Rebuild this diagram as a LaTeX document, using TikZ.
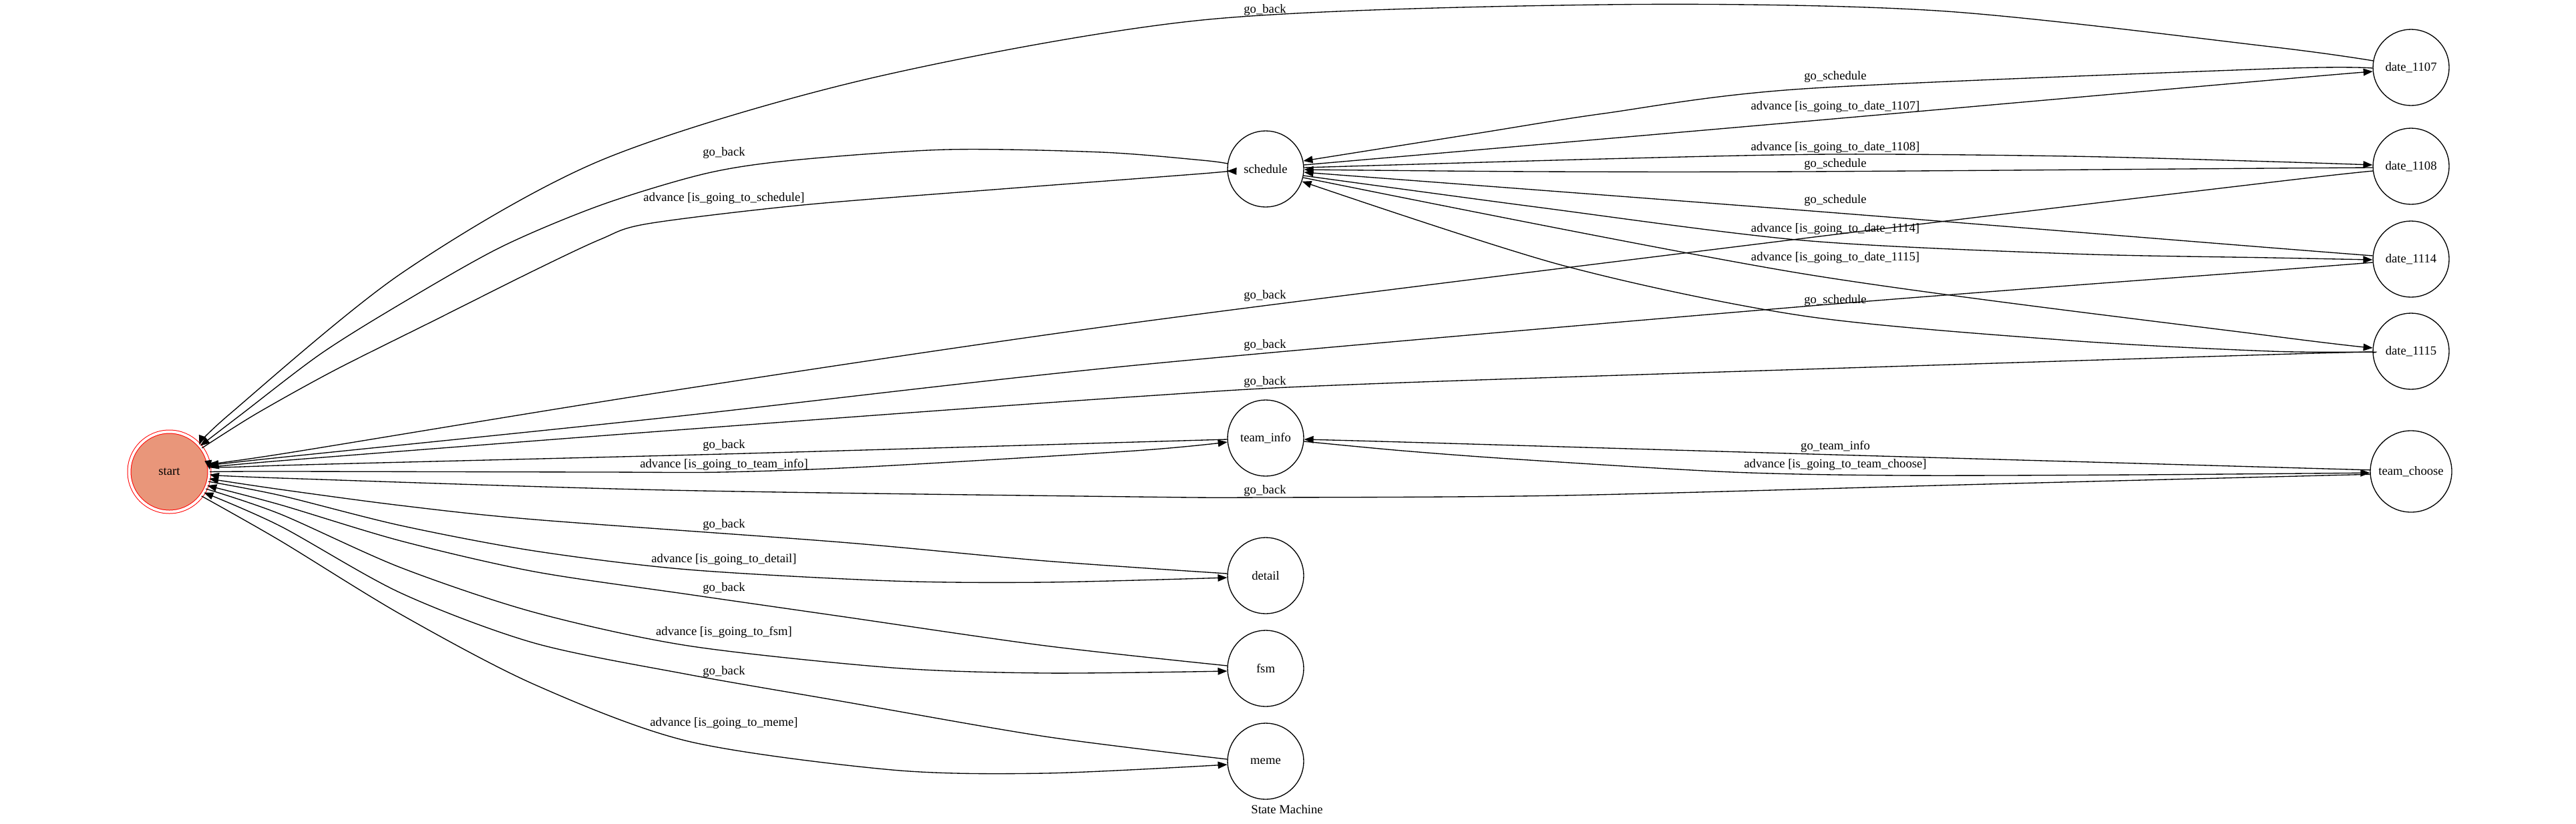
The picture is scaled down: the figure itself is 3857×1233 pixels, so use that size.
\documentclass[tikz,border=0pt]{standalone}
\usepackage{fontspec}
\setmainfont{Liberation Serif}
\usetikzlibrary{arrows.meta}
\definecolor{salmon}{HTML}{E9967A}

\begin{document}
\begin{tikzpicture}[x=0.75pt,y=-0.75pt,
   font=\fontsize{14}{16}\selectfont,
   state/.style={circle,draw,line width=1pt,minimum size=85.5pt,inner sep=0pt},
   tr/.style={-{Triangle[length=10.5pt,width=8pt]},line width=1pt},
   lbl/.style={inner sep=0pt}]
   \fill[white] (0,0) rectangle (3857,1233);

   \node[state,draw=red,fill=salmon,double=white,double distance=3pt,line width=0.75pt,minimum size=90pt] (start) at (253.5,706.5) {start};
   \node[state] (sched) at (1895,253) {schedule};
   \node[state] (tinfo) at (1895,656) {team\_info};
   \node[state] (detail) at (1895,862) {detail};
   \node[state] (fsm) at (1895,1001) {fsm};
   \node[state] (meme) at (1895,1140) {meme};
   \node[state] (d1107) at (3610,101) {date\_1107};
   \node[state] (d1108) at (3610,249) {date\_1108};
   \node[state] (d1114) at (3610,388) {date\_1114};
   \node[state] (d1115) at (3610,526) {date\_1115};
   \node[state,minimum size=91.5pt] (tchoose) at (3610,706) {team\_choose};

   % labels
   \node[lbl] (l1) at (1894,15) {go\_back};
   \node[lbl] (l2) at (2748,115) {go\_schedule};
   \node[lbl] (l3) at (2748,160) {advance [is\_going\_to\_date\_1107]};
   \node[lbl] (l4) at (2748,221) {advance [is\_going\_to\_date\_1108]};
   \node[lbl] (l5) at (2748,246) {go\_schedule};
   \node[lbl] (l6) at (2748,300) {go\_schedule};
   \node[lbl] (l7) at (2748,343) {advance [is\_going\_to\_date\_1114]};
   \node[lbl] (l8) at (2748,386) {advance [is\_going\_to\_date\_1115]};
   \node[lbl] (l9) at (2748,450) {go\_schedule};
   \node[lbl] (l10) at (1084,229) {go\_back};
   \node[lbl] (l11) at (1084,297) {advance [is\_going\_to\_schedule]};
   \node[lbl] (l12) at (1894,443) {go\_back};
   \node[lbl] (l13) at (1894,517) {go\_back};
   \node[lbl] (l14) at (1894,572) {go\_back};
   \node[lbl] (l15) at (1084,667) {go\_back};
   \node[lbl] (l16) at (1084,696) {advance [is\_going\_to\_team\_info]};
   \node[lbl] (l17) at (2748,669) {go\_team\_info};
   \node[lbl] (l18) at (2748,696) {advance [is\_going\_to\_team\_choose]};
   \node[lbl] (l19) at (1894,735) {go\_back};
   \node[lbl] (l20) at (1084,786) {go\_back};
   \node[lbl] (l21) at (1084,838) {advance [is\_going\_to\_detail]};
   \node[lbl] (l22) at (1084,881) {go\_back};
   \node[lbl] (l23) at (1084,947) {advance [is\_going\_to\_fsm]};
   \node[lbl] (l24) at (1084,1006) {go\_back};
   \node[lbl] (l25) at (1084,1083) {advance [is\_going\_to\_meme]};
   \node[lbl] (title) at (1927,1212) {State Machine};

   % schedule and the dates
   \draw[tr] plot[smooth] coordinates {(d1107.170) (3400,70) (2900,16) (2400,7) (1800,30) (1300,118) (900,240) (600,410) (344,620) (start.42)};
   \draw[tr] plot[smooth] coordinates {(d1107.181) (3400,103) (2700,133) (2401,170) (2210,200) (sched.12)};
   \draw[tr] plot[smooth] coordinates {(sched.6) (2700,182) (3400,120) (d1107.186)};
   \draw[tr] plot[smooth] coordinates {(sched.2) (2400,238) (2743,231) (3100,234) (3400,242) (d1108.178)};
   \draw[tr] plot[smooth] coordinates {(d1108.182) (3400,252) (2700,257) (2300,257) (sched.359)};
   \draw[tr] plot[smooth] coordinates {(d1114.175) (3400,371) (2700,315) (sched.355)};
   \draw[tr] plot[smooth] coordinates {(sched.350) (2300,310) (2700,360) (3100,380) (3400,386) (d1114.181)};
   \draw[tr] plot[smooth] coordinates {(sched.347) (2700,410) (3400,503) (d1115.175)};
   \draw[tr] plot[smooth] coordinates {(d1115.181) (3400,526) (3100,510) (2700,473) (2338,397) (sched.341)};
   \draw[tr] plot[smooth] coordinates {(sched.172) (1800,240) (1650,228) (1417,224) (1187,240) (1056,260) (900,307) (750,370) (600,455) (480,530) (362,620) (start.40)};
   \draw[tr] plot[smooth] coordinates {(start.36) (383,620) (500,555) (650,480) (800,405) (900,358) (970,335) (1202,307) (1500,283) (1800,260) (sched.183)};
   \draw[tr] plot[smooth] coordinates {(d1108.187) (3400,273) (2700,357) (1700,483) (1000,586) (420,680) (start.12)};
   \draw[tr] plot[smooth] coordinates {(d1114.185) (3400,405) (2700,459) (1700,547) (1000,625) (420,685) (start.9)};
   \draw[tr] plot[smooth] coordinates {(d1115.182) (3400,531) (2100,573) (1700,594) (1000,645) (420,690) (start.6)};

   % teams
   \draw[tr] plot[smooth] coordinates {(tinfo.182) (1700,662) (1082,680) (420,697) (start.3)};
   \draw[tr] plot[smooth] coordinates {(start.0) (420,706) (900,707) (1082,707) (1300,699) (1700,675) (tinfo.186)};
   \draw[tr] plot[smooth] coordinates {(tchoose.178) (2746,681) (2100,662) (tinfo.358)};
   \draw[tr] plot[smooth] coordinates {(tinfo.355) (2100,675) (2274,688) (2593,707) (2848,712) (3200,711) (tchoose.182)};
   \draw[tr] plot[smooth] coordinates {(tchoose.184) (2975,725) (2338,742) (1895,745) (1700,744) (1000,734) (420,716) (start.-4)};

   % detail, fsm, meme
   \draw[tr] plot[smooth] coordinates {(detail.177) (1565,840) (1259,812) (800,778) (600,757) (420,733) (start.-10)};
   \draw[tr] plot[smooth] coordinates {(start.-14) (420,742) (600,787) (800,825) (1030,853) (1336,870) (1565,872) (detail.183)};
   \draw[tr] plot[smooth] coordinates {(fsm.176) (1565,967) (1259,923) (1030,890) (800,856) (600,810) (420,756) (start.-20)};
   \draw[tr] plot[smooth] coordinates {(start.-25) (420,770) (600,850) (800,917) (1030,967) (1336,1000) (1565,1008) (fsm.184)};
   \draw[tr] plot[smooth] coordinates {(meme.177) (1565,1103) (1259,1050) (1030,1010) (800,963) (600,888) (420,788) (start.-31)};
   \draw[tr] plot[smooth] coordinates {(start.-37) (420,810) (600,920) (800,1025) (1030,1110) (1336,1153) (1565,1158) (meme.185)};
\end{tikzpicture}
\end{document}
